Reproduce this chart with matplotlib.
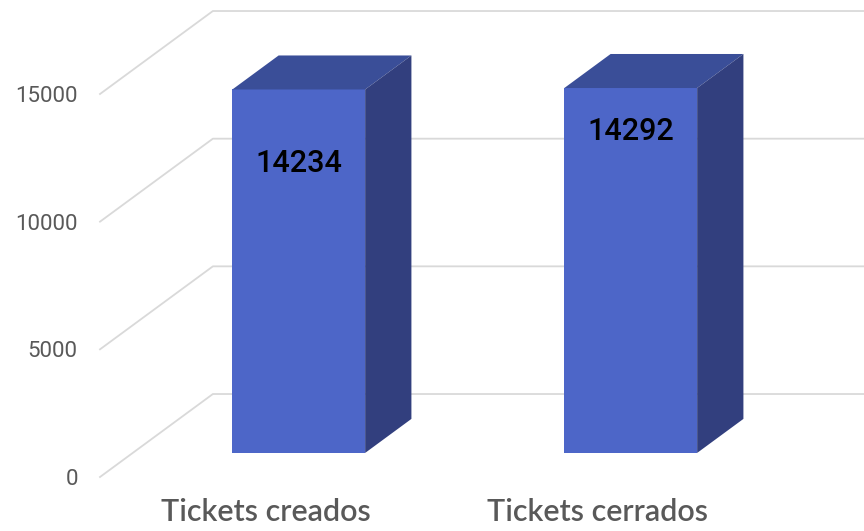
import matplotlib
matplotlib.use("Agg")
import matplotlib.pyplot as plt

# data
categories = ["Tickets creados", "Tickets cerrados"]
values = [14234, 14292]
y_ticks = [0, 5000, 10000, 15000]
label_drop = [1950, 780]   # how far below the bar top each value label sits

# oblique "3D" look: offset from front plane to back wall, in data units
DX = 0.34      # categories
DY = 3250      # value units
Z0, Z1 = 0.29, 0.70   # bar depth range (fraction of floor depth)
BAR_W = 0.4

FRONT = "#4D66C8"
TOP = "#3A4E98"
SIDE = "#323F7E"
GRID = "#D9D9D9"
TXT = "#595959"

W, H = 864, 531
fig = plt.figure(figsize=(W / 100, H / 100), dpi=100)
# axes = front plane of the chart
ax = fig.add_axes([100 / W, (H - 477) / H, 664 / W, 383 / H])
ax.set_xlim(0, len(categories))
ax.set_ylim(0, 15000)
for s in ax.spines.values():
    s.set_visible(False)
ax.patch.set_alpha(0)

# gridlines: diagonal on the floor/left edge, then along the back wall
for t in y_ticks:
    ax.plot([0, DX, len(categories) + DX], [t, t + DY, t + DY],
            color=GRID, lw=1.3, clip_on=False, zorder=1)

# bars
for i, v in enumerate(values):
    x0 = i + 0.5 - BAR_W / 2 + Z0 * DX
    x1 = x0 + BAR_W
    b0 = Z0 * DY
    ddx = (Z1 - Z0) * DX
    ddy = (Z1 - Z0) * DY
    ax.bar(x0, v, width=BAR_W, bottom=b0, align="edge", color=FRONT,
           zorder=3, clip_on=False)
    ax.fill([x0, x1, x1 + ddx, x0 + ddx], [b0 + v, b0 + v, b0 + v + ddy, b0 + v + ddy],
            color=TOP, zorder=3, clip_on=False, lw=0)
    ax.fill([x1, x1 + ddx, x1 + ddx, x1], [b0, b0 + ddy, b0 + v + ddy, b0 + v],
            color=SIDE, zorder=3, clip_on=False, lw=0)
    ax.text(i + 0.5 + Z0 * DX, v - label_drop[i], str(v), ha="center", va="center",
            fontsize=22, family="Roboto", fontweight="medium", color="black", zorder=4)

ax.set_yticks(y_ticks)
ax.set_yticklabels([str(t) for t in y_ticks], family="Roboto", fontsize=16, color=TXT)
ax.set_xticks([i + 0.5 for i in range(len(categories))])
ax.set_xticklabels(categories, family="Lato", fontsize=22, color=TXT, fontweight="semibold")
ax.tick_params(axis="y", length=0, pad=16)
ax.tick_params(axis="x", length=0, pad=15)

fig.savefig("out.png", dpi=100, facecolor="white")
